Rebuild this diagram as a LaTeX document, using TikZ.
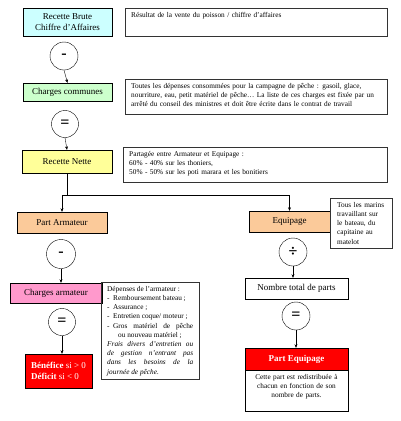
\documentclass[tikz,border=0pt]{standalone}
\usepackage{fontspec}
\setmainfont{Liberation Serif}
\usepackage{tikz}
\usetikzlibrary{arrows.meta,positioning,calc}

\definecolor{cBrute}{RGB}{204,255,255}
\definecolor{cCommunes}{RGB}{204,255,204}
\definecolor{cNette}{RGB}{255,255,153}
\definecolor{cPart}{RGB}{251,202,154}
\definecolor{cCharges}{RGB}{255,153,204}
\definecolor{cRouge}{RGB}{255,0,0}

\begin{document}
\begin{tikzpicture}[
  x=1pt, y=-1pt,
  font=\fontsize{9}{11}\selectfont,
  etape/.style={draw, align=center, inner sep=2pt},
  note/.style={draw=black!80, anchor=north west, align=left, inner xsep=6pt, inner ysep=4pt,
    text width=#1, font=\fontsize{7.3}{9.2}\selectfont},
  op/.style={draw, circle, minimum size=#1, inner sep=0pt, font=\fontsize{16}{16}\selectfont\bfseries},
  op/.default=28pt,
  >={Stealth[length=3.5pt, width=3pt]},
]
\useasboundingbox (0,0) rectangle (400,421);

% colonne de gauche
\node[etape, fill=cBrute, minimum width=89pt, minimum height=28pt] (brute) at (67.5,22) {Recette Brute\\Chiffre d’Affaires};
\node[note=250pt, text depth=14.7pt] (noteBrute) at (125,8) {Résultat de la vente du poisson / chiffre d’affaires};
\node[op] (op1) at (64,56) {-};

\node[etape, fill=cCommunes, minimum width=89pt, minimum height=18pt] (communes) at (67.5,92) {Charges communes};
\node[note=250pt, text depth=21.8pt] (noteCommunes) at (125,79) {Toutes les dépenses consommées pour la campagne de pêche : gasoil, glace,\\
  nourriture, eau, petit matériel de pêche… La liste de ces charges est fixée par un\\
  arrêté du conseil des ministres et doit être écrite dans le contrat de travail};
\node[op=27pt] (op2) at (65,124) {=};

\node[etape, fill=cNette, minimum width=90pt, minimum height=23pt] (nette) at (67,161.5) {Recette Nette};
\node[note=252pt, text depth=22.3pt] (noteNette) at (123,147) {Partagée entre Armateur et Equipage :\\
  60\% - 40\% sur les thoniers,\\
  50\% - 50\% sur les poti marara et les bonitiers};

\draw[->] (op1.south) -- (communes.north);
\draw[->] (op2.south) -- (nette.north);

% partage
\coordinate (fork) at (67,195);
\node[etape, fill=cPart, minimum width=90pt, minimum height=21pt] (armateur) at (62,222.5) {Part Armateur};
\node[etape, fill=cPart, minimum width=81pt, minimum height=21pt] (equipage) at (289.5,221.5) {Equipage};
\draw (nette.south) -- (fork);
\draw[->] (fork) -| (armateur.north);
\draw[->] (fork) -| (equipage.north);

\node[note=48pt, inner xsep=7pt] (noteEquipage) at (330,198) {Tous les marins\\travaillant sur\\le bateau, du\\capitaine au\\matelot};

% armateur
\node[op=29pt] (op3) at (61,254) {-};
\node[etape, fill=cCharges, minimum width=92pt, minimum height=20pt] (chargesArm) at (56,293) {Charges armateur};
\node[note=86pt, align=justify] (noteArm) at (101,282) {Dépenses de l’armateur :\\
  \makebox[6pt][l]{-}Remboursement bateau ;\\
  \makebox[6pt][l]{-}Assurance ;\\
  \makebox[6pt][l]{-}Entretien coque/ moteur ;\\
  \makebox[\hsize][s]{\makebox[6pt][l]{-}Gros matériel de pêche}\\
  \hspace*{11pt}ou nouveau matériel ;\\
  {\itshape Frais divers d’entretien ou\linebreak de gestion n’entrant pas\linebreak dans les besoins de la\linebreak journée de pêche.}};
\node[op=27pt] (op5) at (62,322) {=};
\node[etape, fill=cRouge, text=white, align=left, minimum width=67pt, minimum height=34pt,
  font=\fontsize{9}{11.5}\selectfont] (resultat) at (58.5,371) {\textbf{Bénéfice} si > 0\\\textbf{Déficit} si < 0};

\draw[->] (op3.south) -- (op3.south |- chargesArm.north);
\draw[->] (op5.south) -- (op5.south |- resultat.north);

% equipage
\node[op] (op4) at (293,252) {÷};
\node[etape, minimum width=103pt, minimum height=21pt] (nombre) at (296.5,288.5) {Nombre total de parts};
\node[op] (op6) at (296,316) {=};
\node[etape, fill=cRouge, text=white, font=\fontsize{9}{11}\selectfont\bfseries, minimum width=103pt, minimum height=22pt] (partEq) at (296.5,359) {Part Equipage};
\node[etape, anchor=north, text width=95pt, inner sep=4pt, text depth=27.8pt, font=\fontsize{7.3}{9.2}\selectfont] (notePartEq) at (partEq.south) {Cette part est redistribuée à\\chacun en fonction de son\\nombre de parts.};

\draw[->] (op4.south) -- (op4.south |- nombre.north);
\draw[->] (op6.south) -- (op6.south |- partEq.north);
\end{tikzpicture}
\end{document}
